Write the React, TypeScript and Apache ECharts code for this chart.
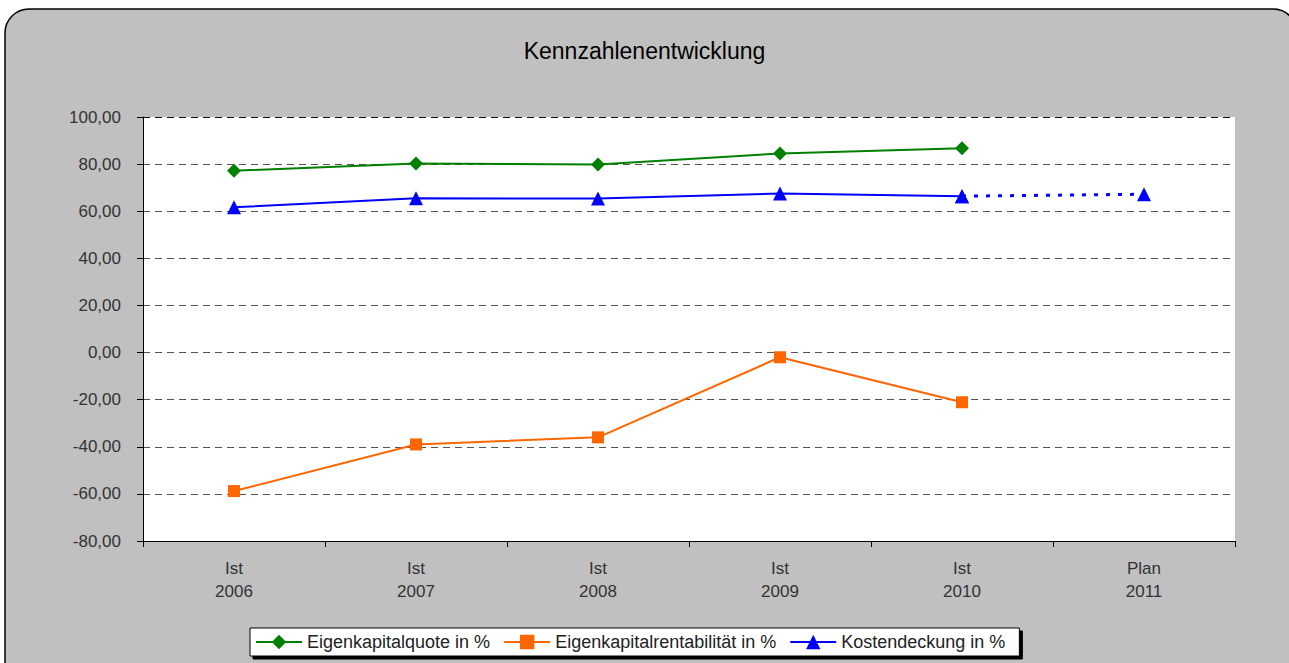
import React, { useEffect, useRef } from "react";
import * as echarts from "echarts";

const statuses = ["Ist", "Ist", "Ist", "Ist", "Ist", "Plan"];
const years = ["2006", "2007", "2008", "2009", "2010", "2011"];
const categories = statuses.map((s, i) => s + "\n" + years[i]);

const eigenkapitalquote = [77.2, 80.3, 79.8, 84.5, 86.7, null];
const eigenkapitalrentabilitaet = [-58.8, -39.0, -36.0, -2.0, -21.1, null];
const kostendeckung = [61.7, 65.5, 65.4, 67.5, 66.4, null];
const kostendeckungPlan = [null, null, null, null, 66.4, 67.2];

const seriesNames = ["Eigenkapitalquote in %", "Eigenkapitalrentabilität in %", "Kostendeckung in %"];
const FONT = "'Liberation Sans', Arial, sans-serif";

export default function App() {
  const ref = useRef<HTMLDivElement>(null);
  useEffect(() => {
    const chart = echarts.init(ref.current!, null, { renderer: "svg" });
    chart.setOption({
      animation: false,
      backgroundColor: "#ffffff",
      textStyle: { fontFamily: FONT },
      graphic: [
        {
          type: "rect",
          z: -10,
          silent: true,
          shape: { x: 5, y: 9, width: 1292, height: 680, r: 24 },
          style: { fill: "#c0c0c0", stroke: "#000", lineWidth: 1.5 },
        },
      ],
      title: {
        text: "Kennzahlenentwicklung",
        left: "center",
        top: 34,
        textStyle: { fontFamily: FONT, fontSize: 23, fontWeight: "normal", color: "#000" },
      },
      legend: {
        data: seriesNames,
        left: 250,
        top: 628,
        padding: [5, 14, 5, 5],
        itemWidth: 46,
        itemHeight: 18,
        itemGap: 13,
        backgroundColor: "#ffffff",
        borderColor: "#000",
        borderWidth: 1,
        shadowColor: "#000",
        shadowBlur: 0,
        shadowOffsetX: 3,
        shadowOffsetY: 3,
        borderRadius: 0,
        textStyle: { fontFamily: FONT, fontSize: 18, color: "#222" },
      },
      grid: {
        left: 143,
        right: 54,
        top: 117,
        bottom: 122,
        show: true,
        backgroundColor: "#ffffff",
        borderWidth: 0,
        containLabel: false,
      },
      xAxis: {
        type: "category",
        data: categories,
        boundaryGap: true,
        axisLine: { onZero: false, lineStyle: { color: "#000", width: 1 } },
        axisTick: { show: true, length: 6, alignWithLabel: false, lineStyle: { color: "#000" } },
        axisLabel: { fontFamily: FONT, fontSize: 17, color: "#333", lineHeight: 23, margin: 16 },
        splitLine: { show: false },
      },
      yAxis: {
        type: "value",
        min: -80,
        max: 100,
        interval: 20,
        axisLine: { show: true, lineStyle: { color: "#000", width: 1 } },
        axisTick: { show: true, length: 6, lineStyle: { color: "#000" } },
        axisLabel: {
          fontFamily: FONT,
          fontSize: 17,
          color: "#333",
          margin: 22,
          formatter: (v: number) => v.toFixed(2).replace(".", ","),
        },
        splitLine: {
          show: true,
          lineStyle: {
            color: ["#555", "#555", "#555", "#555", "#555", "#555", "#555", "#555", "#555", "#111"],
            width: 1,
            type: [7, 5],
          },
        },
      },
      series: [
        {
          name: "Kostendeckung Plan",
          type: "line",
          data: kostendeckungPlan,
          symbol: "triangle",
          symbolSize: 14,
          itemStyle: { color: "#0000ff" },
          lineStyle: { color: "#0000ff", width: 3, type: [4, 8] },
          z: 2,
        },
        {
          name: seriesNames[0],
          type: "line",
          data: eigenkapitalquote,
          symbol: "diamond",
          symbolSize: 14,
          itemStyle: { color: "#008000" },
          lineStyle: { color: "#008000", width: 2 },
          z: 3,
        },
        {
          name: seriesNames[1],
          type: "line",
          data: eigenkapitalrentabilitaet,
          symbol: "rect",
          symbolSize: 12,
          itemStyle: { color: "#ff6600" },
          lineStyle: { color: "#ff6600", width: 2 },
          z: 3,
        },
        {
          name: seriesNames[2],
          type: "line",
          data: kostendeckung,
          symbol: "triangle",
          symbolSize: 14,
          itemStyle: { color: "#0000ff" },
          lineStyle: { color: "#0000ff", width: 2 },
          z: 3,
        },
      ],
    });
    return () => chart.dispose();
  }, []);
  return (
    <div
      ref={ref}
      style={{ position: "absolute", left: 0, top: 0, width: 1289, height: 663 }}
    />
  );
}
